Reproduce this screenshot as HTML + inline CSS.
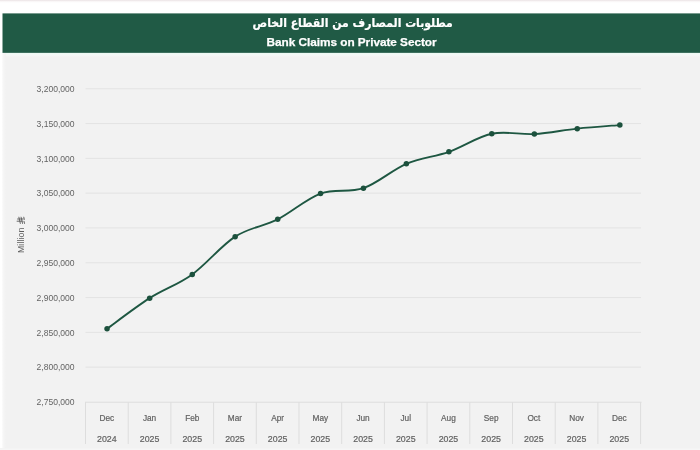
<!DOCTYPE html>
<html lang="en">
<head>
<meta charset="utf-8">
<title>Bank Claims on Private Sector</title>
<style>
html,body{margin:0;padding:0;}
body{width:700px;height:450px;overflow:hidden;background:#f2f2f2;position:relative;font-family:"Liberation Sans",sans-serif;}
.top{position:absolute;left:0;top:0;width:700px;height:58px;background:linear-gradient(#e9e1e3 0,#f6f1f2 1px,#fdfcfc 2px,#ffffff 3.5px,#ffffff 52px,#eef9f4 53.5px,#f5f8f7 55px,#f3f2f2 57px,#f2f2f2 58px);}
.leftstrip{position:absolute;left:0;top:53px;width:6px;height:397px;background:linear-gradient(90deg,#ffffff 0,#ffffff 1.6px,#f7f7f7 3px,#f4f4f4 4.5px,#f2f2f2 6px);}
.t-ar{z-index:2;position:absolute;left:2.7px;width:700px;top:12.7px;height:20px;line-height:20px;text-align:center;color:#fff;font-family:"DejaVu Sans Condensed","DejaVu Sans",sans-serif;font-stretch:condensed;font-weight:bold;font-size:12.1px;-webkit-text-stroke:0.2px #fff;direction:rtl;white-space:nowrap;}
.t-en{z-index:2;position:absolute;left:1.6px;width:700px;top:33px;height:18px;line-height:18px;text-align:center;color:#fff;font-family:"Liberation Sans",sans-serif;font-weight:bold;font-size:11.8px;letter-spacing:-0.04px;-webkit-text-stroke:0.25px #fff;white-space:nowrap;}
.botstrip{position:absolute;left:0;top:448px;width:700px;height:2px;background:linear-gradient(#f3f3f3,#f7f7f7);}
.chart{position:absolute;left:0;top:0;}
.grid{stroke:#e3e3e3;stroke-width:1;}
.axis{stroke:#dddddd;stroke-width:1;}
.yl{font-family:"Liberation Sans",sans-serif;font-size:8.55px;fill:#646464;}
.xl{font-family:"Liberation Sans",sans-serif;font-size:8.8px;fill:#626262;stroke:#626262;stroke-width:0.2px;}
.yt{font-family:"Liberation Sans",sans-serif;font-size:8.8px;letter-spacing:0.1px;fill:#5e5e5e;}
.ln{fill:none;stroke:#1e5742;stroke-width:1.85;stroke-linejoin:round;stroke-linecap:round;}
.pt{fill:#1c513d;}
</style>
</head>
<body>
<div class="top"></div>
<div class="leftstrip"></div>
<div class="botstrip"></div>
<div class="t-ar" lang="ar" dir="rtl">مطلوبات المصارف من القطاع الخاص</div>
<div class="t-en">Bank Claims on Private Sector</div>
<svg class="chart" width="700" height="450" viewBox="0 0 700 450">
<rect x="2.5" y="13.4" width="698" height="39.45" fill="#205a45"/>
<line x1="85.5" y1="88.75" x2="641" y2="88.75" class="grid"/>
<line x1="85.5" y1="123.55" x2="641" y2="123.55" class="grid"/>
<line x1="85.5" y1="158.35" x2="641" y2="158.35" class="grid"/>
<line x1="85.5" y1="193.15" x2="641" y2="193.15" class="grid"/>
<line x1="85.5" y1="227.95" x2="641" y2="227.95" class="grid"/>
<line x1="85.5" y1="262.75" x2="641" y2="262.75" class="grid"/>
<line x1="85.5" y1="297.55" x2="641" y2="297.55" class="grid"/>
<line x1="85.5" y1="332.35" x2="641" y2="332.35" class="grid"/>
<line x1="85.5" y1="367.15" x2="641" y2="367.15" class="grid"/>
<line x1="85.0" y1="402.20" x2="641.5" y2="402.20" class="axis"/>
<line x1="85.50" y1="402.20" x2="85.50" y2="444" class="axis"/>
<line x1="128.20" y1="402.20" x2="128.20" y2="444" class="axis"/>
<line x1="170.90" y1="402.20" x2="170.90" y2="444" class="axis"/>
<line x1="213.60" y1="402.20" x2="213.60" y2="444" class="axis"/>
<line x1="256.30" y1="402.20" x2="256.30" y2="444" class="axis"/>
<line x1="299.00" y1="402.20" x2="299.00" y2="444" class="axis"/>
<line x1="341.70" y1="402.20" x2="341.70" y2="444" class="axis"/>
<line x1="384.40" y1="402.20" x2="384.40" y2="444" class="axis"/>
<line x1="427.10" y1="402.20" x2="427.10" y2="444" class="axis"/>
<line x1="469.80" y1="402.20" x2="469.80" y2="444" class="axis"/>
<line x1="512.50" y1="402.20" x2="512.50" y2="444" class="axis"/>
<line x1="555.20" y1="402.20" x2="555.20" y2="444" class="axis"/>
<line x1="597.90" y1="402.20" x2="597.90" y2="444" class="axis"/>
<line x1="640.60" y1="402.20" x2="640.60" y2="444" class="axis"/>
<text x="74.6" y="92.05" class="yl" text-anchor="end">3,200,000</text>
<text x="74.6" y="126.85" class="yl" text-anchor="end">3,150,000</text>
<text x="74.6" y="161.65" class="yl" text-anchor="end">3,100,000</text>
<text x="74.6" y="196.45" class="yl" text-anchor="end">3,050,000</text>
<text x="74.6" y="231.25" class="yl" text-anchor="end">3,000,000</text>
<text x="74.6" y="266.05" class="yl" text-anchor="end">2,950,000</text>
<text x="74.6" y="300.85" class="yl" text-anchor="end">2,900,000</text>
<text x="74.6" y="335.65" class="yl" text-anchor="end">2,850,000</text>
<text x="74.6" y="370.45" class="yl" text-anchor="end">2,800,000</text>
<text x="74.6" y="405.25" class="yl" text-anchor="end">2,750,000</text>
<text transform="translate(106.85,420.6) scale(0.94,1)" class="xl" text-anchor="middle">Dec</text>
<text x="106.85" y="442.1" class="xl" text-anchor="middle">2024</text>
<text transform="translate(149.55,420.6) scale(0.94,1)" class="xl" text-anchor="middle">Jan</text>
<text x="149.55" y="442.1" class="xl" text-anchor="middle">2025</text>
<text transform="translate(192.25,420.6) scale(0.94,1)" class="xl" text-anchor="middle">Feb</text>
<text x="192.25" y="442.1" class="xl" text-anchor="middle">2025</text>
<text transform="translate(234.95,420.6) scale(0.94,1)" class="xl" text-anchor="middle">Mar</text>
<text x="234.95" y="442.1" class="xl" text-anchor="middle">2025</text>
<text transform="translate(277.65,420.6) scale(0.94,1)" class="xl" text-anchor="middle">Apr</text>
<text x="277.65" y="442.1" class="xl" text-anchor="middle">2025</text>
<text transform="translate(320.35,420.6) scale(0.94,1)" class="xl" text-anchor="middle">May</text>
<text x="320.35" y="442.1" class="xl" text-anchor="middle">2025</text>
<text transform="translate(363.05,420.6) scale(0.94,1)" class="xl" text-anchor="middle">Jun</text>
<text x="363.05" y="442.1" class="xl" text-anchor="middle">2025</text>
<text transform="translate(405.75,420.6) scale(0.94,1)" class="xl" text-anchor="middle">Jul</text>
<text x="405.75" y="442.1" class="xl" text-anchor="middle">2025</text>
<text transform="translate(448.45,420.6) scale(0.94,1)" class="xl" text-anchor="middle">Aug</text>
<text x="448.45" y="442.1" class="xl" text-anchor="middle">2025</text>
<text transform="translate(491.15,420.6) scale(0.94,1)" class="xl" text-anchor="middle">Sep</text>
<text x="491.15" y="442.1" class="xl" text-anchor="middle">2025</text>
<text transform="translate(533.85,420.6) scale(0.94,1)" class="xl" text-anchor="middle">Oct</text>
<text x="533.85" y="442.1" class="xl" text-anchor="middle">2025</text>
<text transform="translate(576.55,420.6) scale(0.94,1)" class="xl" text-anchor="middle">Nov</text>
<text x="576.55" y="442.1" class="xl" text-anchor="middle">2025</text>
<text transform="translate(619.25,420.6) scale(0.94,1)" class="xl" text-anchor="middle">Dec</text>
<text x="619.25" y="442.1" class="xl" text-anchor="middle">2025</text>
<g transform="translate(23.8,253.1) rotate(-90)"><text x="0" y="0" class="yt">Million</text><g class="sar" transform="translate(29.3,-7.1)" stroke="#5e5e5e" stroke-width="0.95" fill="none"><line x1="2.6" y1="0" x2="2.6" y2="6.0"/><line x1="4.8" y1="0.5" x2="4.8" y2="6.9"/><line x1="0" y1="3.7" x2="7" y2="2.1"/><line x1="0" y1="5.9" x2="7" y2="4.3"/><line x1="4.0" y1="7.7" x2="7" y2="7.0"/><line x1="0" y1="7.9" x2="2.9" y2="7.2"/></g></g>
<path d="M107.05,328.75 C114.15,323.65 135.45,307.20 149.65,298.15 C163.85,289.10 178.00,284.70 192.25,274.45 C206.50,264.20 220.91,245.84 235.15,236.65 C249.39,227.46 263.47,226.48 277.70,219.30 C291.93,212.12 306.26,198.74 320.55,193.55 C334.84,188.36 349.15,193.10 363.45,188.15 C377.75,183.20 392.11,169.91 406.35,163.85 C420.59,157.79 434.67,156.82 448.90,151.80 C463.13,146.78 477.51,136.71 491.75,133.75 C505.99,130.79 520.10,134.90 534.35,134.05 C548.60,133.20 563.00,130.15 577.25,128.65 C591.50,127.15 612.75,125.65 619.85,125.05" class="ln"/>
<circle cx="107.05" cy="328.75" r="2.75" class="pt"/>
<circle cx="149.65" cy="298.15" r="2.75" class="pt"/>
<circle cx="192.25" cy="274.45" r="2.75" class="pt"/>
<circle cx="235.15" cy="236.65" r="2.75" class="pt"/>
<circle cx="277.70" cy="219.30" r="2.75" class="pt"/>
<circle cx="320.55" cy="193.55" r="2.75" class="pt"/>
<circle cx="363.45" cy="188.15" r="2.75" class="pt"/>
<circle cx="406.35" cy="163.85" r="2.75" class="pt"/>
<circle cx="448.90" cy="151.80" r="2.75" class="pt"/>
<circle cx="491.75" cy="133.75" r="2.75" class="pt"/>
<circle cx="534.35" cy="134.05" r="2.75" class="pt"/>
<circle cx="577.25" cy="128.65" r="2.75" class="pt"/>
<circle cx="619.85" cy="125.05" r="2.75" class="pt"/>
</svg>
</body>
</html>
